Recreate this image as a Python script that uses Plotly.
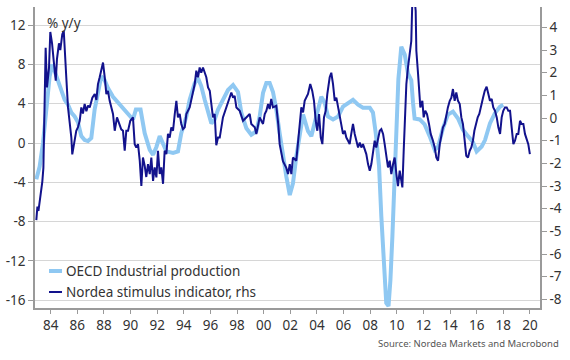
import plotly.graph_objects as go

# ---------------- data ----------------
oecd_t = [1982.92, 1983.17, 1983.42, 1983.67, 1983.92, 1984.12, 1984.3, 1984.55, 1984.8, 1985.05,
          1985.3, 1985.55, 1985.8, 1986.05, 1986.3, 1986.55, 1986.8, 1987.05, 1987.3, 1987.55,
          1987.8, 1988.05, 1988.3, 1988.68, 1989.05, 1989.43, 1989.8, 1990.0, 1990.18, 1990.4,
          1990.75, 1991.06, 1991.44, 1991.69, 1991.94, 1992.19, 1992.45, 1992.69, 1993.19, 1993.56,
          1993.81, 1994.19, 1994.44, 1994.82, 1995.07, 1995.31, 1995.57, 1995.82, 1996.07, 1996.32,
          1996.57, 1996.94, 1997.32, 1997.7, 1998.07, 1998.32, 1998.7, 1999.07, 1999.45, 1999.7,
          1999.95, 2000.2, 2000.45, 2000.7, 2000.95, 2001.2, 2001.45, 2001.7, 2001.96, 2002.2,
          2002.45, 2002.7, 2002.96, 2003.33, 2003.58, 2003.95, 2004.33, 2004.59, 2004.83, 2005.21,
          2005.59, 2005.96, 2006.34, 2006.71, 2007.09, 2007.46, 2007.97, 2008.21, 2008.42, 2008.67,
          2008.84, 2009.04, 2009.21, 2009.38, 2009.52, 2009.67, 2009.82, 2009.97, 2010.12, 2010.34,
          2010.6, 2010.84, 2011.09, 2011.22, 2011.34, 2011.72, 2012.09, 2012.47, 2012.85, 2013.1,
          2013.47, 2013.84, 2014.22, 2014.6, 2014.97, 2015.35, 2015.72, 2016.0, 2016.38, 2016.63,
          2017.0, 2017.38, 2017.75, 2018.0]
oecd_v = [-3.7, -2.4, 0.0, 3.4, 6.8, 8.0, 7.3, 6.4, 5.4, 4.4,
          3.9, 3.1, 2.7, 2.1, 0.7, 0.3, 0.2, 0.5, 3.4, 5.4,
          6.8, 6.4, 5.6, 4.7, 4.1, 3.5, 2.9, 2.6, 2.4, 3.4,
          3.4, 1.0, -0.7, -1.2, -0.4, 0.7, -0.2, -0.85, -1.0, -0.85,
          1.0, 2.7, 4.4, 6.1, 6.6, 5.8, 4.4, 3.1, 2.0, 2.4,
          3.4, 4.4, 5.4, 5.9, 5.2, 3.1, 1.5, 0.85, 1.2, 2.7,
          5.1, 6.1, 6.1, 5.2, 3.4, 1.0, -1.4, -3.4, -5.3, -4.1,
          -1.4, 1.0, 2.9, 1.2, 0.7, 2.7, 4.7, 4.1, 2.7, 2.4,
          2.7, 3.7, 4.1, 4.4, 3.9, 3.6, 3.6, 3.1, 1.0, -2.4,
          -7.5, -12.6, -16.3, -16.6, -14.0, -9.5, -4.0, 1.5, 6.5, 9.8,
          9.0, 7.1, 6.4, 4.1, 2.5, 2.4, 1.9, 0.7, -0.7, -0.4,
          1.5, 2.9, 3.2, 2.5, 1.35, 0.7, 0.1, -0.85, -0.35, 0.3,
          2.0, 3.05, 3.7, 3.9]

nordea_t = [1982.92, 1983.0, 1983.08, 1983.17, 1983.27, 1983.37, 1983.45, 1983.5, 1983.57, 1983.62,
            1983.72, 1983.87, 1983.97, 1984.1, 1984.23, 1984.38, 1984.47, 1984.62, 1984.72, 1984.87,
            1984.98, 1985.05, 1985.17, 1985.3, 1985.43, 1985.55, 1985.62, 1985.8, 1985.92, 1986.05,
            1986.18, 1986.3, 1986.42, 1986.55, 1986.68, 1986.8, 1986.93, 1987.13, 1987.31, 1987.43,
            1987.55, 1987.68, 1987.8, 1987.93, 1988.06, 1988.18, 1988.3, 1988.43, 1988.68, 1988.81,
            1988.98, 1989.13, 1989.3, 1989.43, 1989.56, 1989.68, 1989.81, 1989.98, 1990.18, 1990.31,
            1990.43, 1990.56, 1990.69, 1990.81, 1990.93, 1991.06, 1991.18, 1991.31, 1991.44, 1991.56,
            1991.69, 1991.81, 1991.94, 1992.06, 1992.19, 1992.31, 1992.44, 1992.56, 1992.69, 1992.81,
            1992.94, 1993.06, 1993.19, 1993.32, 1993.44, 1993.56, 1993.69, 1993.81, 1993.94, 1994.07,
            1994.19, 1994.44, 1994.56, 1994.69, 1994.82, 1994.94, 1995.07, 1995.19, 1995.31, 1995.44,
            1995.57, 1995.69, 1995.82, 1995.95, 1996.07, 1996.19, 1996.32, 1996.44, 1996.57, 1996.7,
            1996.94, 1997.19, 1997.45, 1997.57, 1997.7, 1997.82, 1997.95, 1998.2, 1998.45, 1998.7,
            1998.95, 1999.07, 1999.33, 1999.45, 1999.7, 1999.95, 2000.08, 2000.2, 2000.33, 2000.45,
            2000.57, 2000.7, 2000.95, 2001.1, 2001.2, 2001.45, 2001.7, 2001.83, 2001.96, 2002.08,
            2002.2, 2002.45, 2002.58, 2002.7, 2002.83, 2002.96, 2003.08, 2003.33, 2003.5, 2003.65,
            2003.78, 2003.91, 2004.03, 2004.16, 2004.29, 2004.41, 2004.53, 2004.66, 2004.78, 2004.96,
            2005.08, 2005.21, 2005.34, 2005.46, 2005.59, 2005.71, 2005.83, 2005.96, 2006.09, 2006.21,
            2006.34, 2006.46, 2006.58, 2006.71, 2006.84, 2006.96, 2007.09, 2007.22, 2007.34, 2007.46,
            2007.59, 2007.71, 2007.84, 2007.97, 2008.09, 2008.21, 2008.34, 2008.46, 2008.59, 2008.72,
            2008.84, 2008.97, 2009.09, 2009.21, 2009.34, 2009.47, 2009.59, 2009.72, 2009.84, 2009.97,
            2010.09, 2010.22, 2010.34, 2010.42, 2010.52, 2010.62, 2010.72, 2010.84, 2010.97, 2011.09,
            2011.17, 2011.3, 2011.42, 2011.47, 2011.6, 2011.67, 2011.77, 2011.92, 2012.02, 2012.14,
            2012.27, 2012.42, 2012.55, 2012.72, 2012.85, 2012.97, 2013.1, 2013.23, 2013.35, 2013.47,
            2013.6, 2013.72, 2013.84, 2013.98, 2014.1, 2014.22, 2014.35, 2014.47, 2014.6, 2014.73,
            2014.85, 2014.97, 2015.1, 2015.22, 2015.35, 2015.48, 2015.6, 2015.72, 2015.83, 2015.95,
            2016.08, 2016.2, 2016.35, 2016.48, 2016.61, 2016.75, 2016.88, 2017.0, 2017.13, 2017.25,
            2017.38, 2017.51, 2017.63, 2017.76, 2017.88, 2018.0, 2018.13, 2018.26, 2018.38, 2018.51,
            2018.63, 2018.76, 2018.88, 2019.01, 2019.13, 2019.26, 2019.38, 2019.51, 2019.63, 2019.76,
            2019.88, 2020.0]
nordea_v = [-4.5, -3.9, -4.1, -3.7, -3.4, -2.8, -2.2, -1.0, 1.07, 3.1,
            1.35, 2.2, 3.8, 3.3, 2.5, 1.65, 2.6, 3.3, 3.0, 3.7,
            3.85, 2.8, 1.8, 0.47, -0.12, -0.86, -1.6, -1.0, -0.56, -0.4,
            -0.12, 0.47, 0.2, 0.62, 0.3, 0.55, 0.47, 0.9, 1.06, 0.8,
            1.5, 1.8, 2.1, 2.45, 1.8, 1.06, 1.2, 0.76, 0.18, -0.56,
            0.03, -0.26, -0.5, -0.56, -1.44, -0.56, -0.56, -0.12, 0.03, -1.15,
            -1.3, -1.15, -1.88, -3.0, -1.74, -2.1, -2.6, -2.03, -2.47, -1.74,
            -2.77, -2.18, -2.62, -1.44, -2.47, -2.18, -2.9, -1.44, -1.59, -0.7,
            -0.86, -0.41, -0.56, 0.18, 0.76, 0.03, 0.18, -0.26, -0.49, -0.41,
            0.18, 0.47, 0.76, 1.2, 1.5, 2.09, 1.8, 2.23, 2.0, 2.23,
            1.94, 1.8, 1.35, 1.2, 0.62, 0.03, 0.18, -1.2, -0.86, -0.86,
            0.03, 0.47, 0.98, 1.13, 0.9, 0.98, 0.47, 0.32, -0.12, 0.03,
            0.18, -0.26, -0.41, -0.7, 0.03, -0.26, 0.18, 0.32, 0.62, 0.4,
            0.84, 0.47, 0.54, -0.3, -1.15, -1.9, -2.2, -2.47, -2.03, -2.47,
            -1.74, -1.88, -1.15, -0.41, 0.47, 0.25, 0.76, 1.06, 1.5, 1.2,
            0.76, -0.12, -0.56, 0.18, -0.86, -1.15, 0.03, 0.32, 1.06, 1.8,
            2.0, 1.5, 0.76, 0.9, 0.47, 0.18, -0.26, -0.7, -0.56, -0.86,
            -1.0, -1.15, -0.7, -0.26, -0.7, -1.0, -1.3, -1.08, -1.3, -1.15,
            -1.44, -1.59, -2.03, -2.32, -2.03, -1.44, -1.0, -1.3, -0.86, -0.56,
            -0.49, -0.7, -1.15, -1.59, -2.18, -1.88, -2.47, -2.03, -1.74, -2.47,
            -3.0, -2.32, -2.77, -3.06, -1.44, 0.03, 1.5, 2.23, 2.97, 3.4,
            5.2, 5.5, 4.73, 2.97, 1.94, 1.2, 0.47, 0.76, 0.03, 0.32,
            0.18, -0.26, -0.7, -1.0, -1.3, -1.74, -1.88, -1.15, -0.7, -0.41,
            -0.26, 0.18, 0.47, 0.76, 0.9, 1.28, 0.76, 1.13, 0.76, 0.62,
            0.03, -0.26, -1.0, -1.66, -1.74, -1.44, -1.3, -1.0, -0.56, -0.26,
            0.03, 0.18, 0.62, 0.9, 1.2, 1.38, 1.06, 0.76, 0.84, 0.47,
            0.32, 0.03, -0.41, -0.7, 0.03, 0.32, 0.47, 0.47, 0.32, 0.32,
            -0.41, -1.15, -1.0, -0.7, -0.7, -0.12, -0.26, -0.26, -0.7, -1.0,
            -1.15, -1.59]

x_tickvals = list(range(1984, 2021, 2))
x_ticktext = ["84", "86", "88", "90", "92", "94", "96", "98", "00", "02", "04",
              "06", "08", "10", "12", "14", "16", "18", "20"]
left_tickvals = [-16, -12, -8, -4, 0, 4, 8, 12]
left_ticktext = ["-16", "-12", "-8", "-4", "0", "4", "8", "12"]
right_tickvals = [-8, -7, -6, -5, -4, -3, -2, -1, 0, 1, 2, 3, 4]
right_ticktext = ["-8", "-7", "-6", "-5", "-4", "-3", "-2", "-1", "0", "1", "2", "3", "4"]

series_names = ["OECD Industrial production", "Nordea stimulus indicator, rhs"]
series_colors = ["#8fc8f2", "#12128c"]

FONT = "Noto Sans"
TXT = "#333333"
AXC = "#9a9a9a"

fig = go.Figure()
fig.add_trace(go.Scatter(x=oecd_t, y=oecd_v, mode="lines", name=series_names[0],
                         line=dict(color=series_colors[0], width=4), showlegend=False,
                         yaxis="y"))
fig.add_trace(go.Scatter(x=nordea_t, y=nordea_v, mode="lines", name=series_names[1],
                         line=dict(color=series_colors[1], width=2), showlegend=False,
                         yaxis="y2"))

# custom legend (bottom-left inside plot)
L, R, T, B = 35, 540, 7, 308
def px(x):
    return (x - L) / (R - L)
def py(y):
    return (B - y) / (B - T)

legend_rows = [271, 292]
legend_widths = [4, 2]
for i in range(2):
    fig.add_shape(type="line", xref="paper", yref="paper",
                  x0=px(49), x1=px(62), y0=py(legend_rows[i]), y1=py(legend_rows[i]),
                  line=dict(color=series_colors[i], width=legend_widths[i]))
    fig.add_annotation(text=series_names[i], xref="paper", yref="paper",
                       x=px(64), y=py(legend_rows[i]), xanchor="left", yanchor="middle",
                       showarrow=False, font=dict(family=FONT, size=13.5, color=TXT))

fig.add_annotation(text="% y/y", xref="paper", yref="paper", x=px(45), y=py(23),
                   xanchor="left", yanchor="middle", showarrow=False,
                   font=dict(family=FONT, size=13.5, color=TXT))
fig.add_annotation(text="Source: Nordea Markets and Macrobond", xref="paper", yref="paper",
                   x=px(561), y=py(344), xanchor="right", yanchor="middle", showarrow=False,
                   font=dict(family=FONT, size=9.5, color="#555555"))

fig.update_layout(
    width=570, height=360,
    margin=dict(l=L, r=570 - R, t=T, b=360 - B),
    paper_bgcolor="white", plot_bgcolor="white",
    font=dict(family=FONT, size=13, color=TXT),
    showlegend=False,
    xaxis=dict(range=[1982.82, 2020.76], tickvals=x_tickvals, ticktext=x_ticktext,
               ticks="outside", ticklen=4, tickcolor=AXC, showline=True, linecolor=AXC,
               linewidth=1.5, showgrid=False, zeroline=False,
               tickfont=dict(family=FONT, size=13.5, color=TXT)),
    yaxis=dict(range=[-16.8, 13.85], tickvals=left_tickvals, ticktext=left_ticktext,
               ticks="outside", ticklen=5, tickcolor=AXC, showline=True, linecolor=AXC,
               linewidth=1.5, showgrid=True, gridcolor="#d6d6d6", gridwidth=1,
               zeroline=False, tickfont=dict(family=FONT, size=13.5, color=TXT)),
    yaxis2=dict(range=[-8.38, 4.9], tickvals=right_tickvals, ticktext=right_ticktext,
                overlaying="y", side="right", anchor="x",
                ticks="outside", ticklen=5, tickcolor=AXC, showline=True, linecolor=AXC,
                linewidth=1.5, showgrid=False, zeroline=False,
                tickfont=dict(family=FONT, size=13.5, color=TXT)),
)

fig.write_html("out.html", config={"displayModeBar": False},
               post_script="document.body.style.margin='0';document.body.style.overflow='hidden';")
